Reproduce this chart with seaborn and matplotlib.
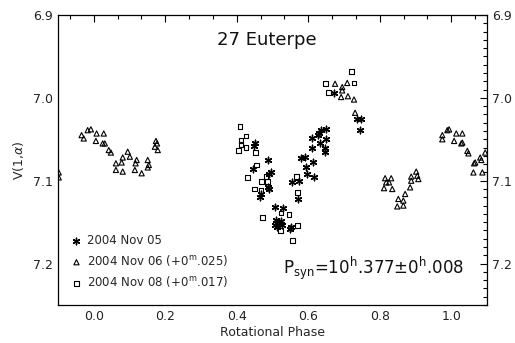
import matplotlib
matplotlib.use("Agg")
import matplotlib.pyplot as plt
import seaborn as sns
import pandas as pd
from matplotlib.ticker import MultipleLocator

# ---- data ----
nov05_phase = [0.451, 0.448, 0.487, 0.446, 0.496, 0.490, 0.487, 0.490, 0.468, 0.465,
               0.507, 0.530, 0.510, 0.507, 0.513, 0.515, 0.527, 0.524, 0.552, 0.549,
               0.555, 0.574, 0.571, 0.594, 0.613, 0.597, 0.616, 0.580, 0.591, 0.611,
               0.633, 0.647, 0.647, 0.628, 0.630, 0.650, 0.636, 0.650, 0.611, 0.737,
               0.748, 0.745, 0.672]
nov05_mag = [7.055, 7.058, 7.075, 7.086, 7.089, 7.092, 7.108, 7.110, 7.116, 7.120,
             7.132, 7.133, 7.147, 7.154, 7.156, 7.150, 7.153, 7.149, 7.156, 7.158,
             7.102, 7.100, 7.122, 7.083, 7.078, 7.092, 7.096, 7.072, 7.071, 7.060,
             7.055, 7.061, 7.065, 7.045, 7.043, 7.038, 7.039, 7.050, 7.048, 7.025,
             7.025, 7.039, 6.994]

nov06_phase = [-0.098, -0.098,
               -0.034, -0.028, -0.017, -0.008, 0.008, 0.028, 0.006, 0.025, 0.031, 0.042,
               0.048, 0.062, 0.062, 0.078, 0.081, 0.081, 0.095, 0.101, 0.117, 0.120,
               0.115, 0.134, 0.151, 0.154, 0.151, 0.171, 0.177, 0.179, 0.174,
               0.675, 0.695, 0.695, 0.709, 0.692, 0.711, 0.728, 0.731,
               0.815, 0.832, 0.818, 0.826, 0.812, 0.835, 0.885, 0.888, 0.888, 0.902,
               0.905, 0.908, 0.871, 0.852, 0.866, 0.849, 0.866,
               0.975, 0.975, 0.989, 0.994, 1.014, 1.031, 1.008, 1.028, 1.031, 1.045,
               1.048, 1.064, 1.067, 1.062, 1.084, 1.081, 1.087, 1.095]
nov06_mag = [7.090, 7.096,
             7.045, 7.049, 7.039, 7.038, 7.043, 7.043, 7.052, 7.055, 7.055, 7.063,
             7.066, 7.079, 7.087, 7.078, 7.089, 7.072, 7.065, 7.071, 7.079, 7.075,
             7.087, 7.091, 7.075, 7.081, 7.084, 7.059, 7.055, 7.063, 7.052,
             6.983, 6.987, 6.991, 6.982, 6.999, 6.998, 7.002, 7.018,
             7.097, 7.097, 7.102, 7.102, 7.109, 7.110, 7.108, 7.100, 7.095, 7.089,
             7.094, 7.098, 7.116, 7.122, 7.124, 7.131, 7.130,
             7.045, 7.050, 7.039, 7.038, 7.043, 7.043, 7.052, 7.055, 7.054, 7.064,
             7.067, 7.079, 7.078, 7.090, 7.075, 7.072, 7.090, 7.066]

nov08_phase = [0.409, 0.426, 0.412, 0.412, 0.426, 0.406, 0.453, 0.455, 0.429, 0.470,
               0.482, 0.485, 0.449, 0.468, 0.568, 0.569, 0.471, 0.523, 0.546, 0.571,
               0.555, 0.524, 0.720, 0.649, 0.656, 0.728]
nov08_mag = [7.035, 7.046, 7.051, 7.056, 7.060, 7.064, 7.066, 7.081, 7.096, 7.101,
             7.095, 7.101, 7.110, 7.112, 7.095, 7.114, 7.144, 7.160, 7.141, 7.154,
             7.172, 7.139, 6.968, 6.983, 6.994, 6.982]

labels = ["2004 Nov 05",
          "2004 Nov 06 (+0$^{\\rm m}$.025)",
          "2004 Nov 08 (+0$^{\\rm m}$.017)"]
title = "27 Euterpe"
period_text = r"P$_{\rm syn}$=10$^{\rm h}$.377$\pm$0$^{\rm h}$.008"
xticks = [0.0, 0.2, 0.4, 0.6, 0.8, 1.0]
yticks = [6.9, 7.0, 7.1, 7.2]

sns.set_theme(style="white")
plt.rcParams['font.family'] = ['DejaVu Sans']
plt.rcParams['mathtext.fontset'] = 'dejavusans'

fig = plt.figure(figsize=(5.15, 3.43), dpi=100)
ax = fig.add_axes([58/515, 38/343, 429/515, 290/343])

df05 = pd.DataFrame({"phase": nov05_phase, "mag": nov05_mag})
df06 = pd.DataFrame({"phase": nov06_phase, "mag": nov06_mag})
df08 = pd.DataFrame({"phase": nov08_phase, "mag": nov08_mag})

sns.scatterplot(data=df05, x="phase", y="mag", ax=ax, marker=(6, 2, 0), s=22,
                color="black", linewidth=1.0, label=labels[0])
sns.scatterplot(data=df06, x="phase", y="mag", ax=ax, marker="^", s=14,
                facecolor="none", edgecolor="black", linewidth=0.8, label=labels[1])
sns.scatterplot(data=df08, x="phase", y="mag", ax=ax, marker="s", s=12,
                facecolor="none", edgecolor="black", linewidth=0.8, label=labels[2])

ax.set_xlim(-0.1, 1.1)
ax.set_ylim(7.25, 6.9)
ax.set_xticks(xticks)
ax.set_yticks(yticks)
ax.set_yticklabels([f"{v:.1f}" for v in yticks])
ax.set_xticklabels([f"{v:.1f}" for v in xticks])
ax.xaxis.set_minor_locator(MultipleLocator(0.2/3))
ax.yaxis.set_minor_locator(MultipleLocator(0.01))
ax.tick_params(which="both", direction="in", top=True, right=True,
               labelright=True, color="black", width=0.8, labelsize=9, labelcolor="#222222")
ax.tick_params(which="major", length=5)
ax.tick_params(which="minor", length=3)
for sp in ax.spines.values():
    sp.set_color("black")
    sp.set_linewidth(0.9)

ax.set_xlabel("Rotational Phase", fontsize=9, labelpad=2)
ax.set_ylabel("V(1,$\\alpha$)", fontsize=9, labelpad=5)

ax.text(0.487, 0.914, title, transform=ax.transAxes, ha="center", va="center",
        fontsize=13, color="#111111")
ax.text(0.524, 0.128, period_text, transform=ax.transAxes, ha="left", va="center",
        fontsize=12, color="#111111")

leg = ax.legend(loc="lower left", bbox_to_anchor=(0.01, 0.03), frameon=False,
                fontsize=8.5, handletextpad=0.3, labelspacing=0.5,
                handlelength=1.2, borderaxespad=0.2)

fig.savefig("out.png", dpi=100)
